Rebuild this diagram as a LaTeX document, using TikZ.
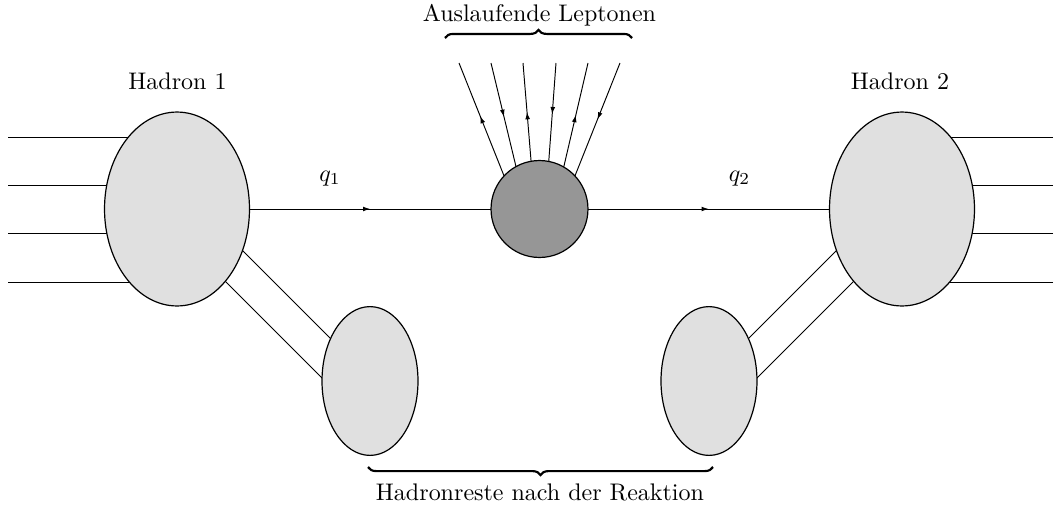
\documentclass[tikz,border=0pt]{standalone}
\usetikzlibrary{shapes.geometric,backgrounds,decorations.markings,decorations.pathreplacing,arrows.meta,calc}
\begin{document}
\begin{tikzpicture}[x=0.41667pt,y=-0.41667pt,
  every node/.style={inner sep=0pt,outer sep=0pt},
  hadron/.style={ellipse,draw,fill=black!12,line width=0.5pt,minimum width=60.4pt,minimum height=80.8pt},
  restblob/.style={ellipse,draw,fill=black!12,line width=0.5pt,minimum width=40pt,minimum height=62pt},
  blob/.style={circle,draw,fill=black!41,line width=0.5pt,minimum size=40.4pt},
  wire/.style={line width=0.4pt},
  lbl/.style={anchor=base},
  bracestyle/.style={decorate,decoration={brace,amplitude=3.4pt},line width=0.9pt},
  midarrow/.style={postaction={decorate},decoration={markings,mark=at position #1 with {\arrow{Latex[length=3pt,width=2pt]}}}},
]
\useasboundingbox (0,0) rectangle (1061,504);

% nodes
\node[hadron] (H1) at (177,209) {};
\node[hadron] (H2) at (902,209) {};
\node[restblob] (S1) at (370,381) {};
\node[restblob] (S2) at (709,381) {};
\node[blob] (C) at (539.5,209) {};

% coordinates
\foreach \y [count=\i] in {137,185,233,282} {
  \coordinate (L\i) at (8,\y);
  \coordinate (R\i) at (1053,\y);
}
\foreach \x [count=\i] in {459,491,523,556,588,620} {
  \coordinate (T\i) at (\x,63);
}
\coordinate (ob1) at (445,38);
\coordinate (ob2) at (632,38);
\coordinate (ub1) at (368,467);
\coordinate (ub2) at (713,467);

\begin{scope}[on background layer]
  \foreach \i in {1,...,4} {
    \draw[wire] (L\i) -- (L\i -| H1);
    \draw[wire] (R\i) -- (R\i -| H2);
  }
  % double lines to remnants
  \draw[wire] ($(H1)+(23,-1)$) -- ($(S1)+(-10,-13)$);
  \draw[wire] ($(H1)+(-7,17)$) -- ($(S1)+(-20,25)$);
  \draw[wire] ($(H2)+(-23,-1)$) -- ($(S2)+(10,-13)$);
  \draw[wire] ($(H2)+(7,17)$) -- ($(S2)+(20,25)$);
\end{scope}

% leptons
\draw[wire,midarrow=0.53] (C.137) -- (T1);
\draw[wire,midarrow=0.52] (T2) -- (C.119.1);
\draw[wire,midarrow=0.50] (C.100.1) -- (T3);
\draw[wire,midarrow=0.52] (T4) -- (C.79.9);
\draw[wire,midarrow=0.50] (C.60.9) -- (T5);
\draw[wire,midarrow=0.50] (T6) -- (C.43);

% propagators
\draw[wire,midarrow=0.5] (H1.east) -- (C.west);
\draw[wire,midarrow=0.5] (C.east) -- (H2.west);

% labels
\node[lbl] (hl1) at (177.5,89) {Hadron 1};
\node[lbl] (hl2) at (900,89) {Hadron 2};
\node[lbl] (q1) at (330,181) {$q_1$};
\node[lbl] (q2) at (739.5,181) {$q_2$};
\node[lbl] (lep) at (539.5,21) {Auslaufende Leptonen};
\node[lbl] (hrest) at (540,500) {Hadronreste nach der Reaktion};

% braces
\draw[bracestyle] (ob1) -- (ob2);
\draw[bracestyle] (ub2) -- (ub1);
\end{tikzpicture}
\end{document}
